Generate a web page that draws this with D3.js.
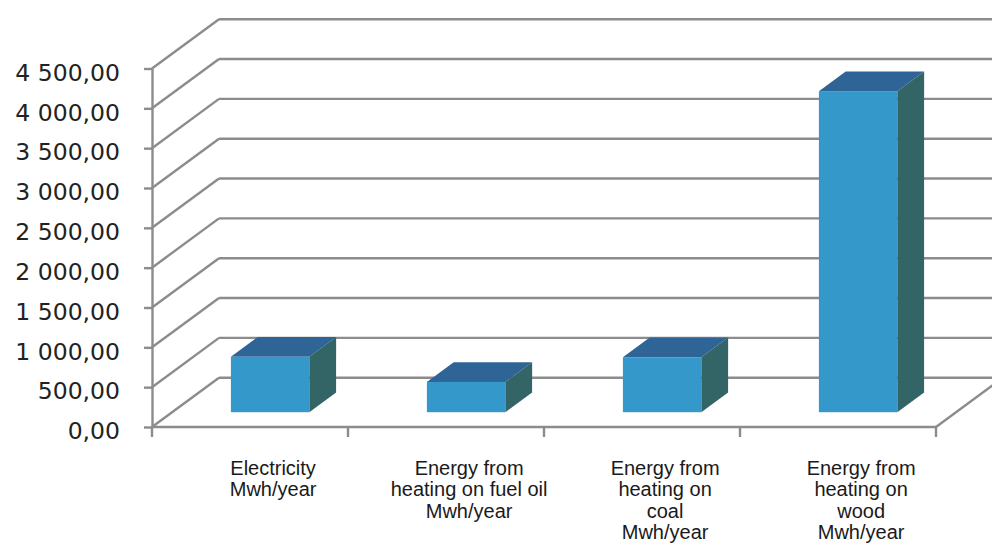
<!DOCTYPE html>
<html>
<head>
<meta charset="utf-8">
<script src="https://cdn.jsdelivr.net/npm/d3@7"></script>
<style>
  html, body { margin: 0; padding: 0; background: #ffffff; }
  svg { display: block; }
</style>
</head>
<body>
<svg id="chart" width="992" height="544"></svg>
<script>
// Annual energy use by source, MWh/year
const categories = ["Electricity", "Fuel oil", "Coal", "Wood"];
const categoryLabels = [
  ["Electricity", "Mwh/year"],
  ["Energy from", "heating on fuel oil", "Mwh/year"],
  ["Energy from", "heating on", "coal", "Mwh/year"],
  ["Energy from", "heating on", "wood", "Mwh/year"]
];
const values = [695, 380, 690, 4030];
const yTicks = [0, 500, 1000, 1500, 2000, 2500, 3000, 3500, 4000, 4500];

const W = 992, H = 544;
const svg = d3.select("#chart");

// oblique projection of the depth axis (back wall offset)
const DX = 67, DY = -49.3;
// bars sit between these depth fractions
const Z0 = 0.3, Z1 = 0.7;
const BAR_FRAC = 0.4;

const x = d3.scaleBand().domain(categories).range([152, 936]).padding(0);
const y = d3.scaleLinear().domain([0, 4500]).range([427, 68.5]);

const fmt = d3.formatLocale({ decimal: ",", thousands: " ", grouping: [3], currency: ["", ""] }).format(",.2f");

const GRID = "#8c8c8c";
const GW = 2.4;

const [x0, x1] = x.range();

// back wall gridlines and side wall diagonals
const grid = svg.append("g");
yTicks.forEach(t => {
  const yy = y(t);
  grid.append("line")
    .attr("x1", x0).attr("y1", yy).attr("x2", x0 + DX).attr("y2", yy + DY)
    .attr("stroke", GRID).attr("stroke-width", GW);
  grid.append("line")
    .attr("x1", x0 + DX).attr("y1", yy + DY).attr("x2", x1 + DX).attr("y2", yy + DY)
    .attr("stroke", GRID).attr("stroke-width", GW);
});

// floor: front edge and right edge
grid.append("line")
  .attr("x1", x0).attr("y1", y(0)).attr("x2", x1).attr("y2", y(0))
  .attr("stroke", GRID).attr("stroke-width", GW);
grid.append("line")
  .attr("x1", x1).attr("y1", y(0)).attr("x2", x1 + DX).attr("y2", y(0) + DY)
  .attr("stroke", GRID).attr("stroke-width", GW);

// category boundary ticks
const bounds = categories.map(c => x(c)).concat([x1]);
grid.selectAll("line.ctick").data(bounds).join("line")
  .attr("class", "ctick")
  .attr("x1", d => d).attr("x2", d => d)
  .attr("y1", y(0)).attr("y2", y(0) + 10)
  .attr("stroke", GRID).attr("stroke-width", GW);

// value axis
const yAxis = svg.append("g")
  .attr("transform", `translate(${x0},0)`)
  .call(d3.axisLeft(y).tickValues(yTicks).tickSize(8).tickSizeOuter(0).tickFormat(fmt));
yAxis.select(".domain").attr("stroke", GRID).attr("stroke-width", GW);
yAxis.selectAll(".tick line").attr("stroke", GRID).attr("stroke-width", GW);
yAxis.selectAll(".tick text")
  .attr("x", -32).attr("dy", "0.5em")
  .attr("fill", "#222")
  .style("font-family", "'DejaVu Sans', sans-serif")
  .style("font-size", "23.5px");

// 3D bars
const bw = x.bandwidth() * BAR_FRAC;
const bars = svg.append("g");
categories.forEach((c, i) => {
  const cx = x(c) + x.bandwidth() / 2 + Z0 * DX;
  const xl = cx - bw / 2, xr = cx + bw / 2;
  const yb = y(0) + Z0 * DY;
  const yt = y(values[i]) + Z0 * DY;
  const bdx = (Z1 - Z0) * DX, bdy = (Z1 - Z0) * DY;
  const g = bars.append("g");
  // top face
  g.append("polygon")
    .attr("points", [[xl, yt], [xr, yt], [xr + bdx, yt + bdy], [xl + bdx, yt + bdy]].join(" "))
    .attr("fill", "#2f6497");
  // side face
  g.append("polygon")
    .attr("points", [[xr, yt], [xr + bdx, yt + bdy], [xr + bdx, yb + bdy], [xr, yb]].join(" "))
    .attr("fill", "#336466");
  // front face
  g.append("rect")
    .attr("x", xl).attr("y", yt).attr("width", bw).attr("height", yb - yt)
    .attr("fill", "#3498cb");
});

// category labels
const labels = svg.append("g")
  .style("font-family", "'Liberation Sans', Arial, sans-serif")
  .style("font-size", "20px")
  .attr("fill", "#1a1a1a")
  .attr("text-anchor", "middle");
categories.forEach((c, i) => {
  const cx = x(c) + x.bandwidth() / 2 + Z0 * DX + 3;
  const t = labels.append("text").attr("x", cx).attr("y", 474.5);
  categoryLabels[i].forEach((line, k) => {
    t.append("tspan").attr("x", cx).attr("y", 474.5 + k * 21.6).text(line);
  });
});
</script>
</body>
</html>
